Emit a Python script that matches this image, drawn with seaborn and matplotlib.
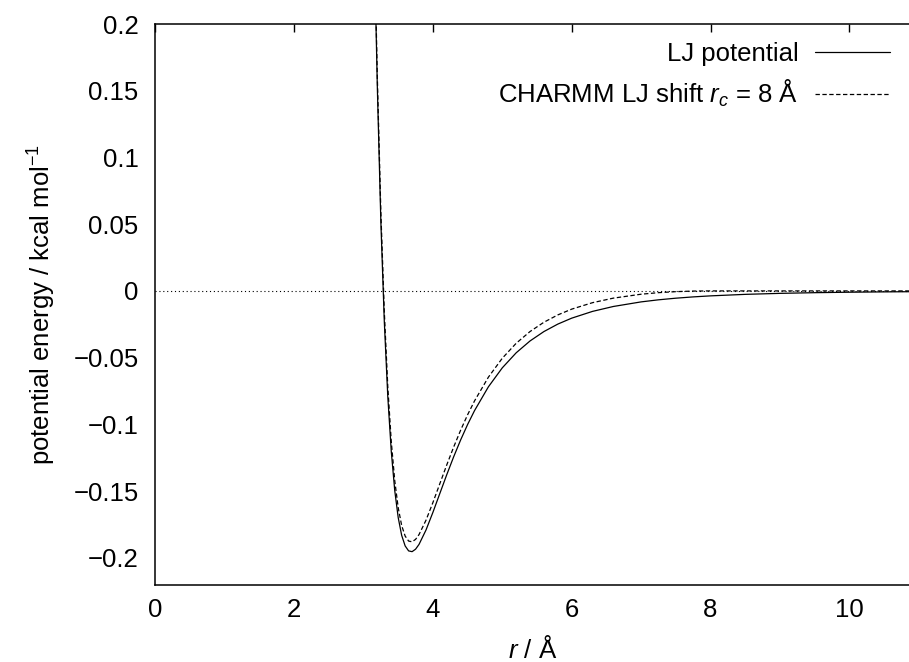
import matplotlib
matplotlib.use("Agg")
import matplotlib.pyplot as plt
import seaborn as sns
import pandas as pd

# distance r / Å
r_vals = [3.16, 3.18, 3.20, 3.25, 3.30, 3.35, 3.40, 3.45, 3.50, 3.55, 3.60, 3.65,
          3.70, 3.75, 3.80, 3.90, 4.00, 4.10, 4.20, 4.30, 4.40, 4.50, 4.60, 4.80,
          5.00, 5.20, 5.40, 5.60, 5.80, 6.00, 6.30, 6.60, 7.00, 7.25, 7.50, 7.75,
          8.00, 8.50, 9.00, 9.50, 10.00, 10.50, 11.00]
# plain LJ potential / kcal mol^-1
lj_vals = [0.2531, 0.1995, 0.1513, 0.05185, -0.02319, -0.07914, -0.12013, -0.14952,
           -0.16985, -0.18318, -0.19108, -0.19482, -0.19539, -0.19356, -0.18996,
           -0.17924, -0.16596, -0.15178, -0.13768, -0.12421, -0.11164, -0.10012,
           -0.08969, -0.07185, -0.05764, -0.04638, -0.03749, -0.03045, -0.02487,
           -0.02042, -0.01535, -0.01167, -0.00823, -0.00668, -0.00546, -0.00449,
           -0.00372, -0.00259, -0.00184, -0.00133, -0.00098, -0.00073, -0.00055]
# CHARMM LJ shift, rc = 8 Å
shift_vals = [0.2605, 0.2069, 0.1587, 0.05925, -0.01579, -0.07175, -0.11274, -0.14213,
              -0.16246, -0.17579, -0.18370, -0.18744, -0.18801, -0.18619, -0.18259,
              -0.17188, -0.15860, -0.14443, -0.13034, -0.11688, -0.10433, -0.09282,
              -0.08241, -0.06461, -0.05045, -0.03924, -0.03043, -0.02347, -0.01799,
              -0.01366, -0.00882, -0.00542, -0.00248, -0.00132, -0.00056, -0.00013,
              0.0, 0.0, 0.0, 0.0, 0.0, 0.0, 0.0]

series_names = ["LJ potential", r"CHARMM LJ shift $r_c$ = 8 Å"]
x_ticks = [0, 2, 4, 6, 8, 10]
y_ticks = [-0.2, -0.15, -0.1, -0.05, 0, 0.05, 0.1, 0.15, 0.2]
y_ticklabels = ["\u22120.2", "\u22120.15", "\u22120.1", "\u22120.05", "0", "0.05", "0.1", "0.15", "0.2"]

df = pd.concat([
    pd.DataFrame({"r": r_vals, "E": lj_vals, "series": series_names[0]}),
    pd.DataFrame({"r": r_vals, "E": shift_vals, "series": series_names[1]}),
])

sns.set_theme(style="white")
plt.rcParams["font.family"] = ["Liberation Sans", "DejaVu Sans"]
plt.rcParams["mathtext.fontset"] = "custom"
plt.rcParams["mathtext.it"] = "Liberation Sans:italic"
plt.rcParams["mathtext.rm"] = "Liberation Sans"
plt.rcParams["text.color"] = "black"
plt.rcParams["axes.labelcolor"] = "black"
plt.rcParams["xtick.color"] = "black"
plt.rcParams["ytick.color"] = "black"

FS = 18.5

fig = plt.figure(figsize=(9.09, 6.62), dpi=100)
ax = fig.add_axes([155.3 / 909, 1 - 584.5 / 662, (909 - 155.3) / 909, (584.5 - 24) / 662])

sns.lineplot(data=df, x="r", y="E", hue="series", style="series",
             palette=["black", "black"], dashes=[(None, None), (3.5, 2)],
             linewidth=0.9, ax=ax, sort=False, estimator=None)

ax.axhline(0, color="black", linewidth=0.8, linestyle=(0, (1, 2.5)), zorder=0)

ax.set_xlim(0, (909 - 155.3) / 69.4)
ax.set_ylim(-0.22, 0.2)
ax.set_xticks(x_ticks)
ax.set_yticks(y_ticks)
ax.set_yticklabels(y_ticklabels)
ax.tick_params(direction="in", length=6, width=1.0, top=True, right=False,
               labelsize=FS, colors="black")
ax.tick_params(axis="x", pad=10)
ax.tick_params(axis="y", pad=12)
for side in ["left", "bottom", "top"]:
    ax.spines[side].set_color("black")
    ax.spines[side].set_linewidth(1.1)
ax.spines["right"].set_visible(False)

ax.set_xlabel(r"$r$ / Å", fontsize=FS, labelpad=10, color="black")
ax.set_ylabel(r"potential energy / kcal mol$^{-1}$", fontsize=FS, labelpad=11, color="black")

leg = ax.legend(loc="upper right", frameon=False, fontsize=FS, markerfirst=False,
                handlelength=2.9, handletextpad=0.65, labelspacing=0.45,
                borderaxespad=0.3, bbox_to_anchor=(0.998, 1.0))
for h in leg.get_lines():
    h.set_linewidth(0.9)
for t in leg.get_texts():
    t.set_color("black")

fig.savefig("out.png", dpi=100)
